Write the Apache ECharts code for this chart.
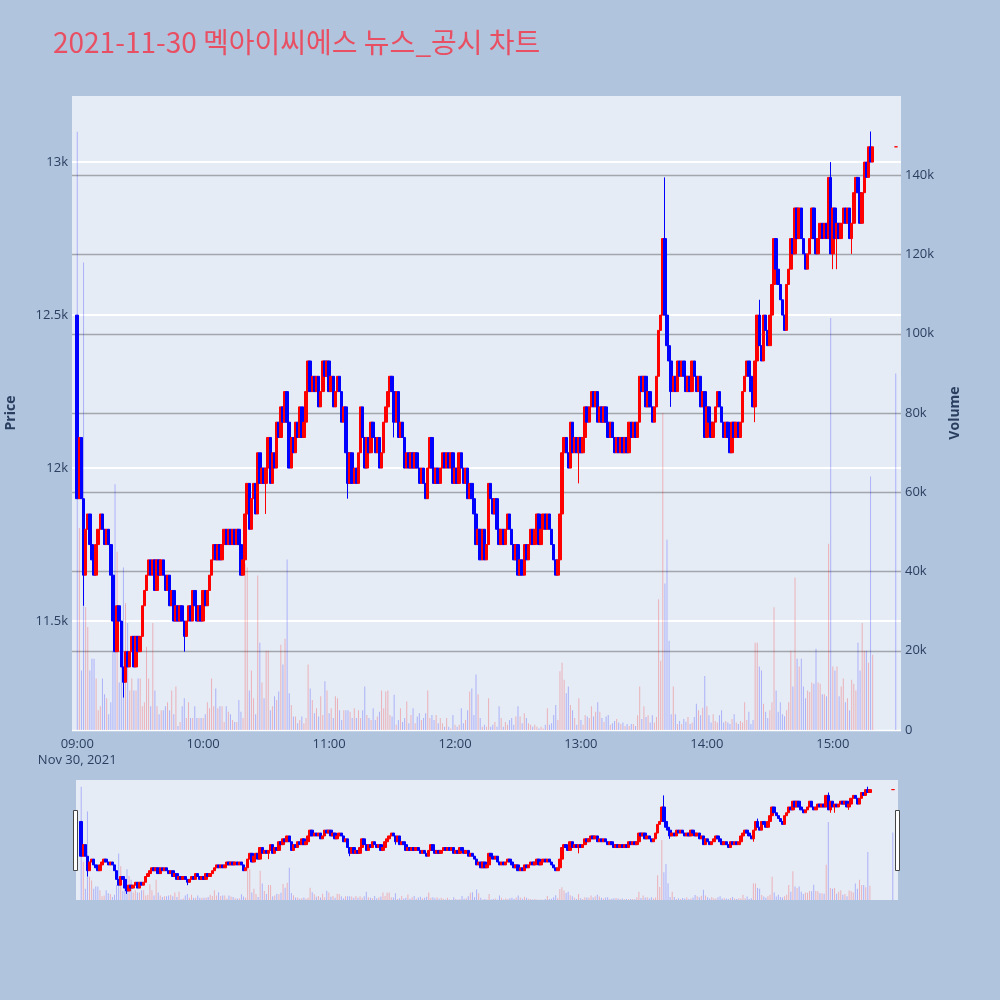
<!DOCTYPE html>
<html>
<head>
<meta charset="utf-8">
<title>멕아이씨에스 뉴스_공시 차트</title>
<script src="https://cdn.jsdelivr.net/npm/echarts@6.0.0/dist/echarts.min.js"></script>
<style>
  html, body { margin: 0; padding: 0; background: #b0c4de; }
  #main { width: 1000px; height: 1000px; }
</style>
</head>
<body>
<div id="main"></div>
<script>
// 1분봉 종가, 09:00 ~ 15:19 (시가 = 직전 종가)
var firstOpen = 12500;
var closes = [
  11900,12100,11900,11650,11800,11850,11750,11700,11650,11750,
  11800,11850,11800,11750,11800,11750,11650,11500,11400,11550,
  11500,11350,11300,11400,11350,11400,11450,11350,11450,11400,
  11450,11550,11600,11650,11700,11650,11700,11600,11700,11650,
  11700,11650,11600,11650,11550,11600,11500,11550,11500,11550,
  11500,11450,11500,11550,11500,11600,11550,11500,11550,11500,
  11600,11550,11600,11650,11700,11750,11700,11750,11700,11750,
  11800,11750,11800,11750,11800,11750,11800,11750,11650,11700,
  11850,11950,11800,11900,11950,11850,12050,11950,12000,11950,
  12000,12100,11950,12050,12000,12150,12100,12200,12150,12250,
  12150,12000,12100,12050,12150,12100,12200,12100,12150,12250,
  12350,12250,12300,12250,12300,12200,12250,12350,12300,12350,
  12250,12300,12200,12250,12300,12250,12150,12200,12050,11950,
  12050,11950,12000,11950,12050,12200,12100,12000,12100,12050,
  12150,12100,12050,12100,12000,12050,12150,12200,12250,12300,
  12250,12150,12250,12100,12150,12100,12000,12050,12000,12050,
  12000,12050,12000,11950,12000,11950,11900,12000,12100,12000,
  11950,12000,11950,12000,12050,12000,12050,12000,12050,11950,
  12000,11950,12050,12000,11950,12000,11900,11950,11900,11850,
  11750,11800,11700,11800,11700,11750,11950,11900,11850,11900,
  11800,11750,11800,11750,11800,11850,11800,11750,11700,11750,
  11650,11700,11650,11750,11700,11750,11800,11750,11800,11850,
  11750,11800,11850,11800,11850,11800,11750,11700,11650,11700,
  11850,12050,12100,12050,12000,12150,12050,12100,12050,12100,
  12050,12100,12200,12150,12200,12250,12200,12250,12150,12200,
  12150,12200,12150,12100,12150,12100,12050,12100,12050,12100,
  12050,12100,12050,12150,12100,12150,12100,12150,12300,12250,
  12300,12200,12250,12200,12150,12200,12300,12450,12500,12750,
  12500,12400,12350,12250,12300,12250,12350,12300,12350,12300,
  12250,12300,12250,12350,12300,12250,12300,12200,12250,12100,
  12200,12150,12100,12150,12200,12250,12200,12150,12100,12150,
  12100,12050,12150,12100,12150,12100,12150,12250,12300,12350,
  12300,12250,12200,12350,12500,12400,12350,12500,12450,12400,
  12500,12600,12750,12650,12600,12550,12500,12450,12600,12650,
  12750,12700,12850,12750,12850,12750,12700,12650,12700,12750,
  12850,12750,12700,12750,12800,12750,12800,12750,12950,12700,
  12850,12750,12800,12750,12800,12850,12800,12850,12750,12800,
  12900,12950,12900,12800,12900,13000,12950,13050,13000,13050
];
// 꼬리: [분 인덱스, 가격]
var highWicks = [[0,12500],[280,12950],[325,12550],[359,13000],[378,13100]];
var lowWicks = [[3,11550],[22,11250],[51,11400],[90,11850],[129,11900],[151,12100],
                [239,11950],[283,12200],[323,12150],[360,12650],[362,12650],[369,12700]];
// 거래량 (천주)
var volumeK = [
  151,51,15,118,31,26,15,18,18,13,
  5,6,13,9,8,4,7,20,62,45,
  12,24,41,32,27,10,13,10,10,13,
  13,6,7,21,13,6,27,10,6,4,
  5,5,6,7,5,10,4,11,1,2,
  6,8,3,7,3,3,6,3,3,3,
  3,4,7,5.5,13,6,10.5,5.5,6,6,
  2,6,4.6,4,2.5,2,2,7.6,4.6,3,
  42,41,10,15,8,4,39,22,12,8,
  20,20,5,6,8.5,7.6,9.7,21.5,16.5,23,
  43,9.3,6.3,3.4,3.4,1.7,2.5,3.4,1.7,3,
  16.5,10.5,7.6,4.2,5.5,3.4,8.5,3.8,12.3,10,
  4.2,5.5,3,8.5,8,5,2.5,5,5,5,
  4.6,3,5.5,3,5,3,5,11,3.8,3,
  2.5,5.5,2.5,3.4,4.6,10,5.5,9.7,10,3.8,
  3.4,8.9,1.3,2.5,5.5,2,3,7.2,1.7,3.8,
  5.5,1.7,3.4,4.2,2.5,3,4.2,10,3,3.8,
  2.5,3.8,1.7,3,1.7,0.8,3,0.8,0.4,3.8,
  1.3,0.8,1.3,5.5,1.7,2.5,5,9.7,10.5,3.8,
  14,9,3,0.8,1.3,0.8,8,0.8,1.3,2,
  0.8,6,3,0.8,2,1.3,2.5,3,1.3,3.4,
  6,3.4,1.7,4.2,3,1.7,1.3,0.8,1.3,0.8,
  0.4,0.8,0.4,1.3,5.5,1.3,1.7,3.8,6.3,2.5,
  14.8,17,12.7,9.3,11,6.3,5,3,1.3,8,
  2.5,1.3,3.8,3.4,3,6,3.4,4.6,7,4.6,
  3,2,3.4,3.8,1.3,1.7,2.3,2.8,1.9,1.5,
  1.9,1,1.5,1,1.5,1.5,1,3.7,11,2.8,
  6,3.3,3.7,1.9,3.7,1.9,3.3,33,17.5,80,
  37,48,22.5,4,11,4,1.5,2.3,1.5,2.8,
  2.1,3.3,1.5,1.9,3.3,6.6,5,3.7,5.6,13.6,
  6,3.7,1.9,4,2.3,1.9,3.7,5,1.9,2.3,
  1.9,1.5,2.8,4,1.9,1.5,2.3,1.9,7,2.5,
  4.6,1.5,2.5,22,22,16,15,6.6,4.6,3,
  5,7,31,10,4.6,7,4,3.5,5,7,
  20,11,38.5,18,16,18,11,8,10,9.6,
  12,11.7,20.5,12,11.7,9,9,8.5,47,104,
  16,15,16,8.5,11,13,7,8,5,12.7,
  11.7,10,22,15,27,20,20,17,64,19
];
// 15:30 동시호가
var auctionMinute = 390;
var auctionPrice = 13050;
var auctionVolumeK = 90;

// x축: 08:58 ~ 15:32 분 단위 카테고리
var firstMinute = -2, lastMinute = 392;
function pad(n) { return (n < 10 ? '0' : '') + n; }
var times = [];
for (var m = firstMinute; m <= lastMinute; m++) {
  var t = 9 * 60 + m;
  times.push(pad(Math.floor(t / 60)) + ':' + pad(t % 60));
}

var UP = '#ff0000', DOWN = '#0000ff';
var UP_VOL = 'rgba(255,0,0,0.25)', DOWN_VOL = 'rgba(0,0,255,0.25)';

var highMap = {}, lowMap = {};
highWicks.forEach(function (w) { highMap[w[0]] = w[1]; });
lowWicks.forEach(function (w) { lowMap[w[0]] = w[1]; });

var candles = [], vols = [];
times.forEach(function (t, i) {
  var m = i + firstMinute;
  if (m >= 0 && m < closes.length) {
    var o = m === 0 ? firstOpen : closes[m - 1];
    var c = closes[m];
    var hi = Math.max(o, c), lo = Math.min(o, c);
    if (highMap[m] != null) hi = Math.max(hi, highMap[m]);
    if (lowMap[m] != null) lo = Math.min(lo, lowMap[m]);
    candles.push([o, c, lo, hi]);
    vols.push({ value: volumeK[m], itemStyle: { color: c > o ? UP_VOL : DOWN_VOL } });
  } else if (m === auctionMinute) {
    candles.push({ value: [auctionPrice, auctionPrice, auctionPrice, auctionPrice],
      itemStyle: { color: UP, color0: UP, borderColor: UP, borderColor0: UP } });
    vols.push({ value: auctionVolumeK, itemStyle: { color: DOWN_VOL } });
  } else {
    candles.push('-');
    vols.push('-');
  }
});

var candleStyle = { color: UP, color0: DOWN, borderColor: UP, borderColor0: DOWN, borderWidth: 1 };
var font = 'Open Sans';
var labelColor = '#2a3f5f';
var gray = 'rgba(110,110,110,0.55)';

var myChart = echarts.init(document.getElementById('main'));
var option = {
  backgroundColor: '#b0c4de',
  animation: false,
  title: {
    text: '2021-11-30 멕아이씨에스 뉴스_공시 차트',
    left: 48, top: 23,
    textStyle: { color: '#e94f62', fontSize: 28, fontWeight: 'normal', fontFamily: 'Noto Sans CJK KR' }
  },
  grid: [
    { left: 72, right: 99, top: 96, bottom: 270, show: true, backgroundColor: '#e5ecf6', borderWidth: 0, outerBoundsMode: 'none' },
    { left: 76, right: 102, top: 780, height: 120, show: true, backgroundColor: '#e5ecf6', borderWidth: 0, outerBoundsMode: 'none' }
  ],
  xAxis: [
    {
      type: 'category', gridIndex: 0, data: times, boundaryGap: true,
      axisLine: { show: false }, axisTick: { show: false }, splitLine: { show: false },
      axisLabel: {
        interval: function (i, v) { return v.slice(3) === '00'; },
        formatter: function (v) { return v === '09:00' ? '09:00\nNov 30, 2021' : v; },
        color: labelColor, fontSize: 13, fontFamily: font, margin: 6, lineHeight: 16, hideOverlap: false
      }
    },
    { type: 'category', gridIndex: 1, data: times, boundaryGap: true, show: false }
  ],
  yAxis: [
    {
      type: 'value', gridIndex: 0, position: 'left', min: 11144, max: 13216, splitNumber: 4,
      name: 'Price', nameLocation: 'middle', nameGap: 54,
      nameTextStyle: { color: labelColor, fontSize: 14, fontWeight: 'bold', fontFamily: font },
      axisLine: { show: false }, axisTick: { show: false },
      axisLabel: { formatter: function (v) { return (v / 1000) + 'k'; }, showMinLabel: false, showMaxLabel: false,
        color: labelColor, fontSize: 13, fontFamily: font, margin: 4 },
      splitLine: { lineStyle: { color: ['rgba(0,0,0,0)', '#ffffff', '#ffffff', '#ffffff', '#ffffff', 'rgba(0,0,0,0)'], width: 2 } }
    },
    {
      type: 'value', gridIndex: 0, position: 'right', min: 0, max: 160, interval: 20,
      name: 'Volume', nameLocation: 'middle', nameGap: 47,
      nameTextStyle: { color: labelColor, fontSize: 14, fontWeight: 'bold', fontFamily: font },
      axisLine: { show: false }, axisTick: { show: false },
      axisLabel: { formatter: function (v) { return v === 0 ? '0' : (v > 150 ? '' : v + 'k'); },
        color: labelColor, fontSize: 13, fontFamily: font, margin: 4 },
      splitLine: { lineStyle: { color: ['#ffffff', gray, gray, gray, gray, gray, gray, gray, 'rgba(0,0,0,0)'], width: 1.4 } }
    },
    { type: 'value', gridIndex: 1, min: 11144, max: 13216, show: false },
    { type: 'value', gridIndex: 1, min: 0, max: 160, show: false }
  ],
  series: [
    { type: 'bar', xAxisIndex: 0, yAxisIndex: 1, data: vols, barWidth: 1, z: 1, silent: true },
    { type: 'candlestick', xAxisIndex: 0, yAxisIndex: 0, data: candles, barWidth: 3, itemStyle: candleStyle, z: 2 },
    { type: 'bar', xAxisIndex: 1, yAxisIndex: 3, data: vols, barWidth: 1, z: 1, silent: true },
    { type: 'candlestick', xAxisIndex: 1, yAxisIndex: 2, data: candles, barWidth: 3, itemStyle: candleStyle, z: 2 }
  ],
  graphic: [
    { type: 'rect', shape: { x: 73.5, y: 810.5, width: 4, height: 60 }, style: { fill: '#ffffff', stroke: '#444444', lineWidth: 1 }, z: 10 },
    { type: 'rect', shape: { x: 895.5, y: 810.5, width: 4, height: 60 }, style: { fill: '#ffffff', stroke: '#444444', lineWidth: 1 }, z: 10 }
  ]
};
myChart.setOption(option);
</script>
</body>
</html>
